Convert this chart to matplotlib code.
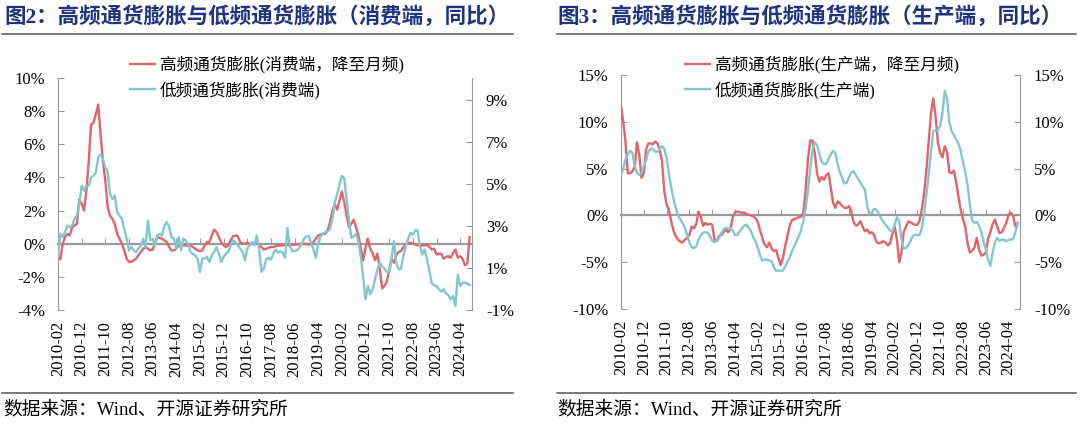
import matplotlib
matplotlib.use('Agg')
import matplotlib.pyplot as plt
from matplotlib.lines import Line2D
import pandas as pd

plt.rcParams['font.family'] = ['Liberation Serif', 'Noto Sans CJK SC']
plt.rcParams['axes.unicode_minus'] = False

# 月份：2010-02 ~ 2024-08
months = pd.period_range('2010-02', periods=175, freq='M').strftime('%Y-%m').tolist()
label_idx = list(range(0, 171, 10))

# 消费端：高频（降至月频）
cpi_high = [
    -0.7, -0.95, 0.0, 0.4, 0.6, 0.5, 1.0, 1.1, 1.2, 2.7,
    2.4, 2.0, 3.2, 5.0, 7.2, 7.3, 7.8, 8.4, 6.6, 5.0,
    3.8, 2.2, 1.7, 1.5, 1.2, 0.6, 0.3, 0.0, -0.4, -0.9,
    -1.1, -1.1, -1.0, -0.9, -0.7, -0.5, -0.3, -0.2, -0.3, -0.4,
    -0.35, 0.0, 0.4, 0.35, 0.3, 0.2, 0.1, -0.2, -0.4, -0.4,
    -0.3, -0.1, 0.0, -0.1, -0.1, -0.1, -0.1, -0.2, -0.3, -0.4,
    -0.45, -0.4, -0.1, 0.1, 0.1, 0.5, 0.85, 0.7, 0.4, 0.1,
    -0.1, -0.2, -0.1, 0.2, 0.45, 0.5, 0.45, 0.1, 0.0, 0.0,
    0.05, 0.0, 0.05, 0.0, 0.0, -0.1, -0.2, -0.35,
    -0.3, -0.25, -0.2, -0.2, -0.15, -0.12, -0.1, -0.1, -0.08, -0.08,
    -0.08, -0.06, -0.05, -0.05, -0.03, 0.0, 0.0, -0.02, -0.05, 0.0,
    0.1, 0.3, 0.5, 0.55, 0.6, 0.6, 0.85, 1.3, 2.0, 2.4,
    2.05, 2.6, 3.15, 2.5, 1.7, 1.0, 1.2, 1.45, 1.0, 0.5,
    -0.3, -1.0, -0.25, 0.3, -0.3, -0.55, -1.0, -0.6, -1.5, -2.7,
    -2.55, -2.3, -1.6, -0.9, -1.15, -0.7, -0.5, -0.45, -0.2, -0.05,
    0.05, 0.05, 0.0, -0.05, -0.1, -0.1, -0.1, -0.1, -0.05, -0.2,
    -0.35, -0.3, -0.65, -0.6, -0.6, -0.9, -0.8, -0.75, -0.85, -0.55,
    -0.35, -0.85, -0.75, -0.9, -1.3, -1.2, 0.4]

# 消费端：低频
cpi_low = [
    -0.8, 0.6, 0.4, 0.7, 1.1, 1.0, 1.1, 1.5, 1.7, 2.4,
    3.5, 3.2, 3.5, 3.5, 4.0, 4.1, 4.3, 5.2, 5.4, 5.1,
    4.6, 4.3, 3.0, 2.7, 2.9, 1.9, 1.7, 1.5, 0.9, 0.3,
    -0.4, -0.2, -0.4, -0.5, -0.3, -0.1, 0.3, -0.2, 1.4, 0.2,
    0.3, -0.1, 0.5, 0.6, 0.5, 1.1, 1.3, 1.0, 0.4, 0.3,
    -0.3, 0.4, -0.4, 0.3, 0.2, 0.0, -0.5, -0.6, -0.7, -0.9,
    -1.7, -0.9, -0.9, -0.8, -1.1, -0.7, -0.5, -0.2, -0.6, -1.1,
    -0.8, -0.6, -0.5, -0.1, 0.2, 0.1, -0.1, -0.3, -0.5, -1.0,
    -0.3, -0.1, 0.1, -0.1, 0.5, -0.3, -1.7, -1.5,
    -0.95, -0.85, -0.95, -0.6, -0.35, -0.55, -0.45, -0.55, -0.85, 0.95,
    -0.15, -0.45, -0.45, -0.4, -0.25, 0.0, 0.3, 0.45, 0.45, 0.05,
    -0.35, -0.85, 0.0, 0.45, 0.6, 0.7, 0.75, 0.9, 1.5, 2.5,
    3.0, 3.6, 4.1, 3.95, 2.7, 1.4, 0.35, 0.45, 0.6, 0.1,
    -0.8, -2.0, -3.35, -2.55, -3.05, -2.75, -2.15, -1.55, -1.15, -1.35,
    -1.5, -1.7, -1.75, -0.85, 0.15, -1.15, -1.55, -1.5, -0.75, -0.15,
    0.3, 0.65, 0.55, 0.8, 0.8, -0.15, -0.65, -0.35, -0.95, -1.65,
    -2.4, -2.5, -2.55, -2.75, -2.9, -2.75, -3.0, -3.1, -3.35, -3.15,
    -3.75, -1.85, -2.55, -2.35, -2.35, -2.4, -2.5]

# 生产端：高频（降至月频）
ppi_high = [
    11.7, 10.0, 7.8, 4.5, 4.5, 4.7, 5.2, 7.8, 6.5, 4.0,
    4.5, 7.0, 7.7, 7.7, 7.6, 7.9, 7.7, 7.0, 5.8, 2.5,
    1.2, 0.6, -0.6, -1.6, -2.2, -2.6, -2.8, -2.9, -2.6, -2.4,
    -2.1, -1.2, -1.4, -0.9, 0.4, -0.1, -1.1, -0.8, -1.0, -0.9,
    -1.0, -2.6, -2.75, -2.2, -2.1, -1.8, -1.5, -1.8, -1.5, -0.2,
    0.3, 0.4, 0.35, 0.3, 0.3, 0.15, 0.05, 0.0, -0.1, -0.3,
    -0.7, -1.6, -2.4, -3.1, -3.4, -2.9, -3.5, -3.8, -3.7, -4.5,
    -5.3, -4.6, -3.3, -2.2, -1.1, -0.5, -0.4, -0.3, -0.2, -0.15,
    0.3, 2.8, 6.0, 8.0, 8.0, 6.6, 4.5, 3.6, 4.1, 3.8,
    4.3, 4.5, 3.0, 1.4, 0.8, 1.5, 1.3, 1.0, 0.8, 0.8,
    1.0, 0.4, -0.7, -1.1, -1.0, -0.6, -1.2, -1.7, -1.5, -1.9,
    -1.8, -2.1, -2.8, -3.0, -2.9, -2.75, -2.9, -3.2, -3.0, -2.0,
    -1.2, -2.5, -5.0, -4.0, -1.8, -1.2, -0.65, -0.75, -0.9, -1.0,
    -1.0, -0.5, 0.7, 2.5, 5.0, 8.0, 11.0, 12.5, 10.5, 7.8,
    6.7, 6.2, 7.4, 6.8, 4.6, 4.5, 4.8, 3.6, 2.0, 0.6,
    -0.4, -1.2, -3.0, -3.95, -3.8, -3.45, -2.4, -3.6, -4.3, -4.2,
    -4.0, -2.5, -1.8, -0.9, -0.45, -1.2, -1.9, -1.8, -1.3, -0.8,
    0.1, 0.3, -0.1, -1.2, -0.8]

# 生产端：低频
ppi_low = [
    4.3, 5.0, 6.0, 6.5, 6.9, 6.7, 5.3, 4.6, 4.3, 4.5,
    5.3, 5.9, 6.8, 7.1, 7.1, 6.8, 6.8, 7.1, 7.4, 7.1,
    6.1, 4.5, 3.0, 1.8, 0.8, 0.0, -0.4, -0.8, -1.3, -2.1,
    -2.9, -3.4, -3.5, -3.3, -2.6, -2.1, -1.85, -1.8, -1.85, -2.2,
    -2.75, -2.85, -2.7, -2.4, -1.9, -1.5, -1.35, -1.4, -1.35, -1.6,
    -2.1, -2.1, -1.75, -1.4, -1.1, -1.0, -1.3, -1.7, -2.3, -2.8,
    -3.45, -4.3, -4.85, -4.7, -4.75, -4.8, -4.9, -5.5, -5.9, -5.9,
    -5.9, -5.9, -5.5, -4.95, -4.5, -3.8, -3.3, -2.75, -2.2, -1.6,
    -0.5, 0.8, 2.6, 5.0, 7.0, 7.8, 7.5, 6.6, 5.7, 5.5,
    5.5, 6.0, 6.5, 6.9, 6.7, 5.5, 4.6, 4.0, 3.4, 3.5,
    4.1, 4.6, 4.7, 4.3, 3.9, 3.5, 3.1, 2.7, 1.0, 0.1,
    0.3, 0.7, 0.6, 0.2, -0.3, -0.65, -1.0, -1.3, -1.6, -1.7,
    -1.0, -0.2, -0.6, -2.5, -3.5, -3.5, -3.2, -2.7, -2.2, -2.05,
    -2.1, -2.1, -1.3, 0.2, 2.3, 4.5, 6.9, 9.05, 9.05, 9.1,
    9.6, 11.0, 13.3, 12.5, 10.0, 9.0, 8.6, 8.1, 7.7, 6.9,
    5.7, 4.6, 3.2, 1.2, -0.5, -0.8, -0.7, -1.1, -1.7, -2.8,
    -3.6, -4.7, -5.4, -4.0, -2.9, -2.4, -2.7, -2.6, -2.6, -2.75,
    -2.6, -2.6, -2.5, -1.8, -0.8]

RED = '#e0646a'
CYAN = '#82c7d0'
AXIS_GRAY = '#9a9a9a'
TITLE_BLUE = '#1f3480'

W, H = 1080, 423
fig = plt.figure(figsize=(W / 100, H / 100), dpi=100)


def pct(v, pos=None):
    return f'{v:.0f}%'


def setup_panel(rect, hi, lo, hi_label, lo_label, ylim, yticks, ylim_r, yticks_r, leg_x):
    ax = fig.add_axes(rect)
    x = list(range(len(hi)))
    ax.plot(x, hi, color=RED, lw=1.7, label=hi_label, zorder=3)
    ax.plot(x, lo, color=CYAN, lw=1.7, label=lo_label, zorder=3)
    ax.set_xlim(0, 175)
    ax.set_ylim(*ylim)
    ax.set_yticks(yticks)
    ax.yaxis.set_major_formatter(pct)

    ax.spines['top'].set_visible(False)
    ax.spines['right'].set_visible(False)
    ax.spines['left'].set_color(AXIS_GRAY)
    ax.spines['bottom'].set_position(('data', 0))
    ax.spines['bottom'].set_color(AXIS_GRAY)
    ax.spines['bottom'].set_linewidth(1.6)

    # 零轴上的刻度
    ax.set_xticks(label_idx[1:])
    ax.tick_params(axis='x', direction='in', length=4, color=AXIS_GRAY, labelbottom=False)
    ax.tick_params(axis='y', direction='in', length=4, color=AXIS_GRAY, labelsize=12, pad=9)

    # 日期标签放在底部
    sec = ax.secondary_xaxis('bottom')
    sec.set_xticks(label_idx, [months[i] for i in label_idx])
    sec.spines['bottom'].set_visible(False)
    sec.tick_params(length=0, rotation=90, labelsize=12, pad=8)

    ax2 = ax.twinx()
    ax2.set_ylim(*ylim_r)
    ax2.set_yticks(yticks_r)
    ax2.yaxis.set_major_formatter(pct)
    for s in ['top', 'left', 'bottom']:
        ax2.spines[s].set_visible(False)
    ax2.spines['right'].set_color(AXIS_GRAY)
    ax2.tick_params(axis='y', direction='in', length=4, color=AXIS_GRAY, labelsize=12, pad=10)

    ax.legend(loc='upper left', bbox_to_anchor=(leg_x / W, 1 - 56 / H),
              bbox_transform=fig.transFigure, frameon=False, fontsize=12,
              borderpad=0, borderaxespad=0, handlelength=1.5,
              handletextpad=0.3, labelspacing=0.45)
    return ax


setup_panel([58 / W, (H - 310) / H, 414 / W, 232 / H],
            cpi_high, cpi_low,
            '高频通货膨胀(消费端，降至月频)', '低频通货膨胀(消费端)',
            (-4, 10), range(-4, 11, 2), (-1, 10.05), range(-1, 10, 2), 130)

setup_panel([621 / W, (H - 309) / H, 399 / W, 234 / H],
            ppi_high, ppi_low,
            '高频通货膨胀(生产端，降至月频)', '低频通货膨胀(生产端)',
            (-10, 15), range(-10, 16, 5), (-10, 15), range(-10, 16, 5), 685)

# 标题、分隔线、数据来源
fig.text(4 / W, 1 - 17 / H, '图2：高频通货膨胀与低频通货膨胀（消费端，同比）',
         fontsize=15.5, fontweight='bold', color=TITLE_BLUE, va='center')
fig.text(557 / W, 1 - 17 / H, '图3：高频通货膨胀与低频通货膨胀（生产端，同比）',
         fontsize=15.5, fontweight='bold', color=TITLE_BLUE, va='center')

for x0, x1 in [(0.002, 0.475), (0.516, 0.996)]:
    fig.add_artist(Line2D([x0, x1], [1 - 34 / H] * 2, color='#555555', lw=1.1))
    fig.add_artist(Line2D([x0, x1], [1 - 393 / H] * 2, color='#555555', lw=1.1))

fig.text(3 / W, 1 - 410 / H, '数据来源：Wind、开源证券研究所', fontsize=13.5, va='center')
fig.text(557 / W, 1 - 410 / H, '数据来源：Wind、开源证券研究所', fontsize=13.5, va='center')

fig.savefig('out.png', dpi=100)
